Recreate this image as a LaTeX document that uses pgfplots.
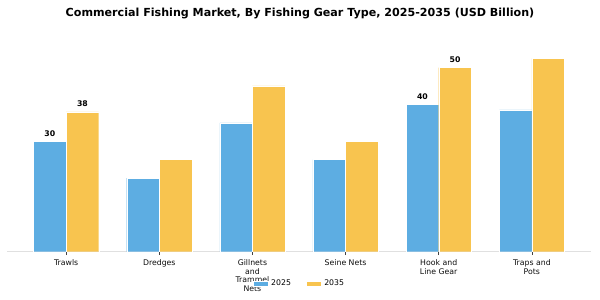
\documentclass[border=0pt]{standalone}
\usepackage{fontspec}
\setmainfont{DejaVu Sans}
\usepackage{pgfplots}
\pgfplotsset{compat=1.18}
\definecolor{cblue}{HTML}{5DADE2}
\definecolor{cyel}{HTML}{F8C44F}
\begin{document}
\begin{tikzpicture}[x=0.72pt,y=0.72pt]
\path[use as bounding box] (0,0) rectangle (600,300);
\begin{axis}[at={(5.04pt,34.776pt)}, anchor=south west, scale only axis,
  width=420.48pt, height=146.16pt,
  xmin=-0.635, xmax=5.635, ymin=0, ymax=55.125,
  axis x line*=bottom, axis y line=none,
  x axis line style={-, draw=black!12, line width=0.8pt},
  xtick={0,1,2,3,4,5},
  xticklabels={Trawls, Dredges, {Gillnets\\and\\Trammel\\Nets}, Seine Nets, {Hook and\\Line Gear}, {Traps and\\Pots}},
  xticklabel style={align=center, font=\fontsize{5.6}{6.05}\selectfont, text=black!95},
  major tick length=2.5pt, tick align=outside, tick style={black!75, line width=0.5pt},
  legend style={at={(0.5017,-0.159)}, anchor=center, draw=none, fill=none,
    font=\fontsize{5.6}{6.5}\selectfont, legend columns=2,
    /tikz/every even column/.append style={column sep=9pt}},
  legend cell align=left,
  legend image code/.code={\fill[#1] (0pt,-1.8pt) rectangle (10.8pt,1.8pt);},
  nodes near coords style={font=\bfseries\fontsize{5.6}{6}\selectfont, inner sep=0pt, yshift=3.4pt, anchor=south, text=black},
]
\addplot[ybar, bar width=0.35, bar shift=0, fill=cblue, draw=white, line width=0.2pt,
  nodes near coords, point meta=explicit symbolic]
  coordinates {(-0.175,30)[30] (0.825,20)[] (1.825,35)[] (2.825,25)[] (3.825,40)[40] (4.825,38.5)[]};
\addlegendentry{2025}
\addplot[ybar, bar width=0.35, bar shift=0, fill=cyel, draw=white, line width=0.2pt,
  nodes near coords, point meta=explicit symbolic]
  coordinates {(0.175,38)[38] (1.175,25)[] (2.175,45)[] (3.175,30)[] (4.175,50)[50] (5.175,52.5)[]};
\addlegendentry{2035}
\end{axis}
\node[font=\bfseries\fontsize{8}{9}\selectfont] at (300,286.5) {Commercial Fishing Market, By Fishing Gear Type, 2025-2035 (USD Billion)};
\end{tikzpicture}
\end{document}
